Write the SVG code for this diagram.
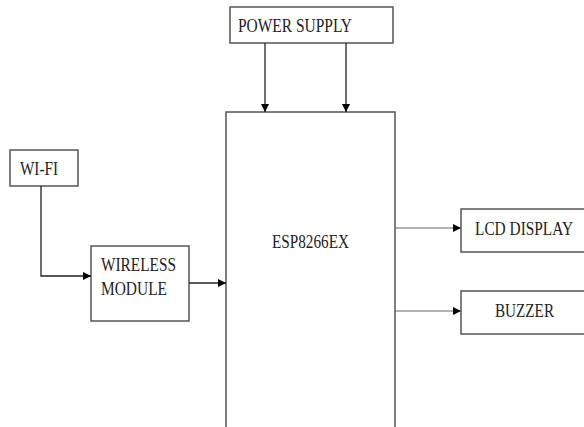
<svg xmlns="http://www.w3.org/2000/svg" width="584" height="427" viewBox="0 0 584 427">
<defs>
<marker id="ah" markerWidth="10" markerHeight="10" refX="9" refY="5" orient="auto" markerUnits="userSpaceOnUse">
<path d="M1,1 L9,5 L1,9 Z" fill="#000"/>
</marker>
<style>
.box{fill:#fff;stroke:#555;stroke-width:1.5}
.lbl{font-family:"Liberation Serif","Times New Roman",serif;font-size:18px;fill:#222}
.con{fill:none;stroke:#222;stroke-width:1.3;marker-end:url(#ah)}
.thin{fill:none;stroke:#666;stroke-width:1;marker-end:url(#ah)}
</style>
</defs>
<rect width="584" height="427" fill="#fff"/>
<g id="power-supply">
<rect class="box" x="230" y="7" width="163" height="36"/>
<text class="lbl" x="238" y="32" textLength="114" lengthAdjust="spacingAndGlyphs">POWER SUPPLY</text>
</g>
<g id="esp8266ex">
<rect class="box" x="226" y="112" width="169" height="330"/>
<text class="lbl" x="272" y="248" textLength="77" lengthAdjust="spacingAndGlyphs">ESP8266EX</text>
</g>
<g id="wifi">
<rect class="box" x="10" y="150" width="68" height="36"/>
<text class="lbl" x="20" y="175" textLength="38" lengthAdjust="spacingAndGlyphs">WI-FI</text>
</g>
<g id="wireless-module">
<rect class="box" x="91" y="246" width="98" height="75"/>
<text class="lbl" x="101" y="271" textLength="75" lengthAdjust="spacingAndGlyphs">WIRELESS</text>
<text class="lbl" x="101" y="295" textLength="66" lengthAdjust="spacingAndGlyphs">MODULE</text>
</g>
<g id="lcd-display">
<path class="box" d="M584,209 H461 V252 H584"/>
<text class="lbl" x="475" y="235" textLength="98" lengthAdjust="spacingAndGlyphs">LCD DISPLAY</text>
</g>
<g id="buzzer">
<path class="box" d="M584,291 H461 V334 H584"/>
<text class="lbl" x="495" y="317" textLength="59" lengthAdjust="spacingAndGlyphs">BUZZER</text>
</g>
<g id="connectors">
<path class="con" d="M265,43 V112"/>
<path class="con" d="M346,43 V112"/>
<path class="con" d="M41,186 V276 H91"/>
<path class="con" d="M189,283 H226"/>
<path class="thin" d="M395,228 H461"/>
<path class="thin" d="M395,311 H461"/>
</g>
</svg>
